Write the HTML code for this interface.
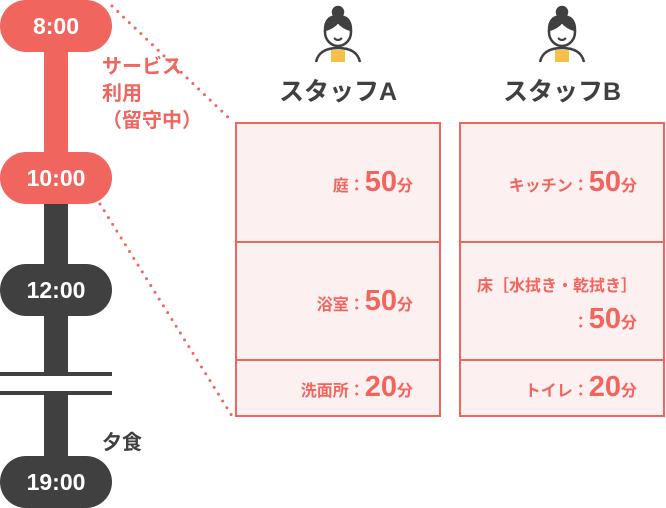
<!DOCTYPE html>
<html><head><meta charset="utf-8"><style>
body{margin:0;width:666px;height:508px;background:#fff;position:relative;overflow:hidden;font-family:"Liberation Sans","Noto Sans CJK JP",sans-serif}
.a{position:absolute}
.pill{position:absolute;left:0;width:112px;height:52px;border-radius:26px;color:#fff;font-size:23px;font-weight:bold;text-align:center;line-height:52px}
.r{background:#f1655f}.d{background:#404040}
.box{position:absolute;top:122px;width:202px;height:291px;border:2px solid #f1655f;background:#fdf0f0}
.row{position:absolute;left:0;right:0;border-bottom:2px solid #f1655f;text-align:right;padding-right:26px;color:#f1655f;font-size:16px;font-weight:bold;box-sizing:border-box}
.row b{font-size:29px}
.ttl{position:absolute;top:72px;width:206px;text-align:center;font-size:25px;font-weight:bold;color:#404040}
</style></head><body>
<svg class="a" style="left:0;top:0" width="666" height="508">
<rect x="44" y="40" width="24" height="130" fill="#f1655f"/>
<rect x="44" y="190" width="24" height="280" fill="#404040"/>
<rect x="0" y="376" width="112" height="16" fill="#fff"/>
<rect x="0" y="372" width="112" height="4" fill="#404040"/>
<rect x="0" y="391" width="112" height="4" fill="#404040"/>
<line x1="112" y1="6" x2="232" y2="121" stroke="#f1655f" stroke-width="3" stroke-dasharray="0 8" stroke-linecap="round"/>
<line x1="100" y1="204" x2="232" y2="416" stroke="#f1655f" stroke-width="3" stroke-dasharray="0 8" stroke-linecap="round"/>
<g id="p" fill="none" stroke="#404040" stroke-width="2.5">
<path d="M316 62 q3-14 22-14 q19 0 22 14" />
<path d="M331 50 h14 v12 h-14z" fill="#f7c04a" stroke="none"/>
<ellipse cx="338" cy="32" rx="13" ry="14" fill="#fff"/>
<path d="M325 30 q0-14 13-14 q13 0 13 14 q-8-2-13-8 q-5 6-13 8z" fill="#404040"/>
<circle cx="338" cy="12" r="5" fill="#404040"/>
<path d="M334 38 q4 4 8 0" stroke-width="2"/>
</g>
<use href="#p" x="224"/>
</svg>
<div class="pill r" style="top:0">8:00</div>
<div class="pill r" style="top:152px">10:00</div>
<div class="pill d" style="top:264px">12:00</div>
<div class="pill d" style="top:456px">19:00</div>
<div class="a" style="left:102px;top:54px;color:#f1655f;font-size:20px;font-weight:bold;line-height:27px">サービス<br>利用<br>（留守中）</div>
<div class="a" style="left:102px;top:426px;color:#404040;font-size:20px;font-weight:bold">夕食</div>
<div class="ttl" style="left:235px">スタッフA</div>
<div class="ttl" style="left:459px">スタッフB</div>
<div class="box" style="left:235px">
<div class="row" style="top:0;height:119px;padding-top:42px">庭：<b>50</b>分</div>
<div class="row" style="top:119px;height:118px;padding-top:42px">浴室：<b>50</b>分</div>
<div class="row" style="top:237px;height:54px;border:0;padding-top:10px">洗面所：<b>20</b>分</div>
</div>
<div class="box" style="left:459px">
<div class="row" style="top:0;height:119px;padding-top:42px">キッチン：<b>50</b>分</div>
<div class="row" style="top:119px;height:118px;padding-top:28px;line-height:32px">床［水拭き・乾拭き］<br>：<b>50</b>分</div>
<div class="row" style="top:237px;height:54px;border:0;padding-top:10px">トイレ：<b>20</b>分</div>
</div>
</body></html>
